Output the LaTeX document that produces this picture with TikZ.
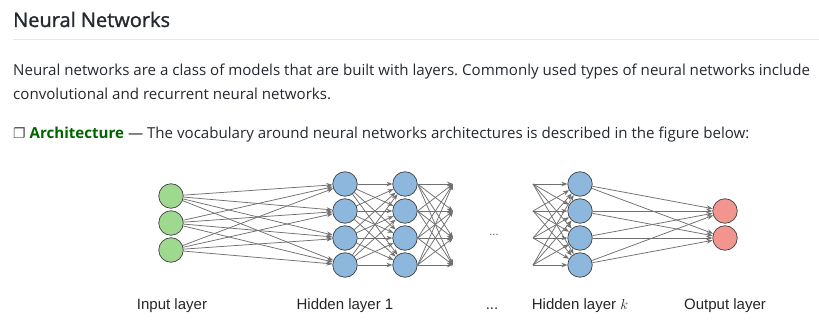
\documentclass[tikz,border=0pt]{standalone}
\usepackage{fontspec}
\setmainfont{Open Sans}
\newfontfamily\labelfont{Liberation Sans}
\newfontfamily\symfont{DejaVu Sans}
\usetikzlibrary{arrows.meta}

\definecolor{textcol}{RGB}{36,41,47}
\definecolor{archgreen}{RGB}{0,100,0}
\definecolor{rulegray}{RGB}{228,230,233}
\definecolor{inputfill}{RGB}{158,217,143}
\definecolor{hiddenfill}{RGB}{141,183,221}
\definecolor{outputfill}{RGB}{243,149,143}
\definecolor{edgegray}{RGB}{112,112,112}

\tikzset{
  neuron/.style={circle, draw=black!75, line width=0.7pt, minimum size=24.5pt, inner sep=0pt},
  link/.style={edgegray, line width=0.75pt, -{Stealth[length=6pt,width=4.5pt]}},
  bodytext/.style={anchor=base west, inner sep=0pt, text=textcol, font=\fontsize{15.1}{18}\selectfont},
  layerlabel/.style={anchor=base, inner sep=0pt, text=black!85, font=\labelfont\fontsize{15}{18}\selectfont},
}

\begin{document}
\frenchspacing
\begin{tikzpicture}[x=1pt,y=-1pt]
\useasboundingbox[fill=white] (0,0) rectangle (819,323);

% heading and text
\node[anchor=base west, inner sep=0pt, text=textcol, font=\fontsize{20}{24}\selectfont\addfontfeature{FakeBold=1.2}] (title) at (13,27) {Neural Networks};
\draw[rulegray, line width=1pt] (13,40) -- (819,40);

\node[bodytext] (line1) at (13,76) {Neural networks are a class of models that are built with layers. Commonly used types of neural networks include};
\node[bodytext] (line2) at (13,100) {convolutional and recurrent neural networks.};
\node[bodytext] (line3) at (13,139) {{\symfont\fontsize{14}{16}\selectfont\textcolor{black!70}{❐}} \textcolor{archgreen}{\bfseries Architecture} — The vocabulary around neural networks architectures is described in the figure below:};

% input layer
\node[neuron, fill=inputfill] (i1) at (171,196) {};
\node[neuron, fill=inputfill] (i2) at (171,223) {};
\node[neuron, fill=inputfill] (i3) at (171,250) {};

% hidden layer 1 (two columns) and hidden layer k
\foreach \r/\y in {1/184,2/211,3/238,4/265} {
  \node[neuron, fill=hiddenfill] (a\r) at (345,\y) {};
  \node[neuron, fill=hiddenfill] (b\r) at (405,\y) {};
  \coordinate (c\r) at (453,\y);
  \coordinate (d\r) at (533,\y);
  \node[neuron, fill=hiddenfill] (k\r) at (580,\y) {};
}

% output layer
\node[neuron, fill=outputfill] (o1) at (725,211) {};
\node[neuron, fill=outputfill] (o2) at (725,238) {};

% connections
\foreach \s in {1,2,3}
  \foreach \t in {1,2,3,4}
    \draw[link] (i\s) -- (a\t);
\foreach \s in {1,2,3,4}
  \foreach \t in {1,2,3,4} {
    \draw[link] (a\s) -- (b\t);
    \draw[link] (b\s.east) -- (c\t);
    \draw[link] (d\s) -- (k\t);
  }
\foreach \s in {1,2,3,4}
  \foreach \t in {1,2}
    \draw[link] (k\s) -- (o\t);

\node[inner sep=0pt, text=black!70, font=\labelfont\fontsize{11}{13}\selectfont] (gap) at (494,235) {...};

% layer names
\node[layerlabel] (inlabel) at (172,309) {Input layer};
\node[layerlabel] (h1label) at (345,309) {Hidden layer 1};
\node[layerlabel] (dotlabel) at (492,309) {...};
\node[layerlabel] (hklabel) at (580,309) {Hidden layer $k$};
\node[layerlabel] (outlabel) at (725,309) {Output layer};

\end{tikzpicture}
\end{document}
